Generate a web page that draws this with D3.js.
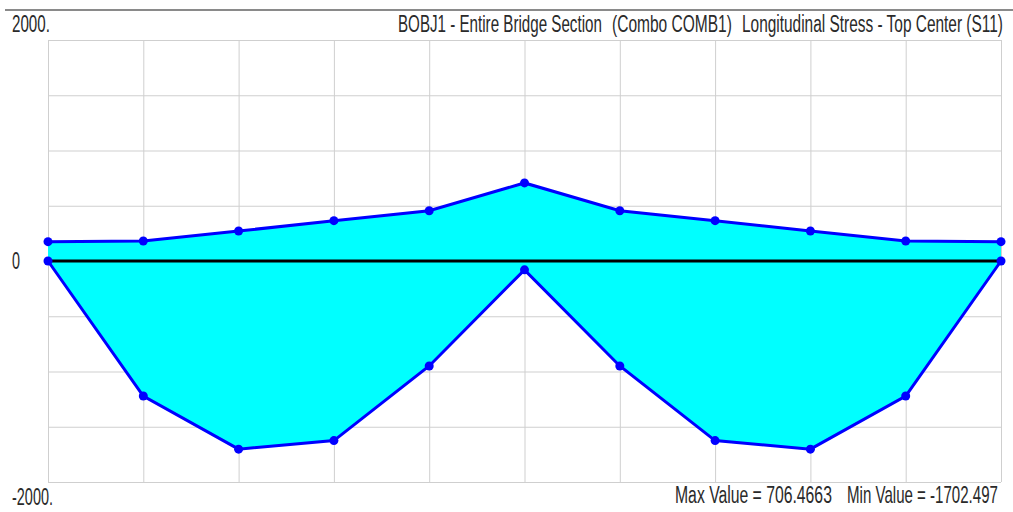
<!DOCTYPE html>
<html><head><meta charset="utf-8">
<script src="https://cdn.jsdelivr.net/npm/d3@7"></script>
<style>html,body{margin:0;padding:0;background:#fff;}svg{display:block;}</style>
</head><body>
<svg id="chart" width="1013" height="512"></svg>
<script>
// ---- data ----
const stations = [0,1,2,3,4,5,6,7,8,9,10];
const topStress = [175,181,271,365,455,706.4663,455,365,271,181,175];
const bottomStress = [0,-1222,-1702.497,-1625,-950,-80,-950,-1625,-1702.497,-1222,0];
const yGridTicks = [-2000,-1500,-1000,-500,0,500,1000,1500,2000];
const yLabelTop = "2000.";
const yLabelZero = "0";
const yLabelBottom = "-2000.";
const titleParts = ["BOBJ1 - Entire Bridge Section", "(Combo COMB1)", "Longitudinal Stress - Top Center (S11)"];
const maxLabel = "Max Value = 706.4663";
const minLabel = "Min Value = -1702.497";

const svg = d3.select("#chart");
const L = 48, R = 1001, T = 40, B = 482;
const x = d3.scaleLinear().domain([0,10]).range([L,R]);
const y = d3.scaleLinear().domain([-2000,2000]).range([B,T]);

// top separator line
svg.append("line").attr("x1",5).attr("x2",1013).attr("y1",10).attr("y2",10)
  .attr("stroke","#8a8a8a").attr("stroke-width",2);

// grid via axes
const gx = svg.append("g").attr("transform",`translate(0,${B})`)
  .call(d3.axisBottom(x).tickValues(stations).tickSize(-(B-T)).tickFormat(""));
const gy = svg.append("g").attr("transform",`translate(${L},0)`)
  .call(d3.axisLeft(y).tickValues(yGridTicks).tickSize(-(R-L)).tickFormat(""));
[gx,gy].forEach(g=>{
  g.select(".domain").remove();
  g.selectAll(".tick line").attr("stroke","#cfcfcf").attr("stroke-width",1);
});

// fill between series
const pts = stations.map((s,i)=>({s, top: topStress[i], bot: bottomStress[i]}));
const area = d3.area().x(d=>x(d.s)).y0(d=>y(d.bot)).y1(d=>y(d.top));
svg.append("path").datum(pts).attr("d",area).attr("fill","#00ffff");

// zero line
svg.append("line").attr("x1",x(0)).attr("x2",x(10)).attr("y1",y(0)).attr("y2",y(0))
  .attr("stroke","#000").attr("stroke-width",3);

// series lines
const lineTop = d3.line().x(d=>x(d.s)).y(d=>y(d.top));
const lineBot = d3.line().x(d=>x(d.s)).y(d=>y(d.bot));
svg.append("path").datum(pts).attr("d",lineTop).attr("fill","none").attr("stroke","#0000ff").attr("stroke-width",3);
svg.append("path").datum(pts).attr("d",lineBot).attr("fill","none").attr("stroke","#0000ff").attr("stroke-width",3);

// dots
svg.append("g").selectAll("circle").data(pts).join("circle")
  .attr("cx",d=>x(d.s)).attr("cy",d=>y(d.top)).attr("r",4.5).attr("fill","#0000ff");
svg.append("g").selectAll("circle").data(pts).join("circle")
  .attr("cx",d=>x(d.s)).attr("cy",d=>y(d.bot)).attr("r",4.5).attr("fill","#0000ff");

// texts: condensed by horizontal scaling to the reference widths
const font = "'Liberation Sans', Arial, sans-serif";
function txt(str, x0, yb, len){
  const t = svg.append("text").attr("x",0).attr("y",0).text(str)
    .attr("font-family",font).attr("font-size",23).attr("fill","#2a2a2a");
  const w = t.node().getComputedTextLength();
  const sx = len / w;
  t.attr("transform",`translate(${x0},${yb}) scale(${sx},1)`);
  return t;
}
txt(yLabelTop, 12, 32, 38);
txt(yLabelZero, 12, y(0)+8, 8);
txt(yLabelBottom, 12, 505, 41);
txt(titleParts[0], 398, 32, 204);
txt(titleParts[1], 612, 32, 120);
txt(titleParts[2], 742, 32, 261);
txt(maxLabel, 675, 503, 157);
txt(minLabel, 847, 503, 151);
</script>
</body></html>
